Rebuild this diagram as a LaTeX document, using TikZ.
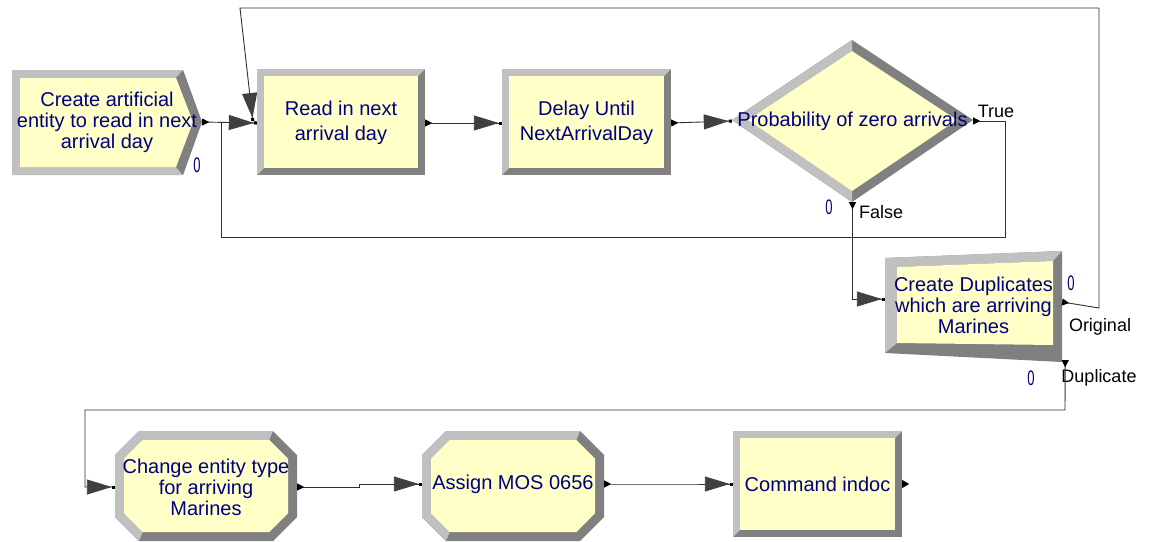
\documentclass[tikz,border=0pt]{standalone}
\usepackage{fontspec}
\setmainfont{Liberation Sans}
\usetikzlibrary{arrows.meta,calc}

\definecolor{modfill}{HTML}{FFFFC8}
\definecolor{bevlight}{HTML}{C0C0C0}
\definecolor{bevdark}{HTML}{808080}
\definecolor{modtext}{HTML}{000080}
\definecolor{linegray}{HTML}{303030}
\definecolor{arrowgray}{HTML}{404040}

% bevelled box: x1, y1, x2, y2, bevel
\newcommand{\bevrect}[5]{%
  \fill[bevdark] (#1,#2) rectangle (#3,#4);
  \fill[bevlight] (#1,#4) -- (#1,#2) -- (#3,#2) -- (#3-#5,#2+#5) -- (#1+#5,#2+#5) -- (#1+#5,#4-#5) -- cycle;
  \fill[modfill] (#1+#5,#2+#5) rectangle (#3-#5,#4-#5);
}
% bevelled box with cut corners: x1, y1, x2, y2, corner, bevel
\newcommand{\bevocta}[6]{%
  \pgfmathsetmacro{\cin}{#5+0.414*#6}
  \fill[bevdark] (#1+#5,#2) -- (#3-#5,#2) -- (#3,#2+#5) -- (#3,#4-#5) -- (#3-#5,#4) -- (#1+#5,#4) -- (#1,#4-#5) -- (#1,#2+#5) -- cycle;
  \fill[bevlight] (#1+#5,#4) -- (#1,#4-#5) -- (#1,#2+#5) -- (#1+#5,#2) -- (#3-#5,#2)
    -- (#3-\cin,#2+#6) -- (#1+\cin,#2+#6) -- (#1+#6,#2+\cin) -- (#1+#6,#4-\cin) -- (#1+\cin,#4-#6) -- cycle;
  \fill[modfill] (#1+\cin,#2+#6) -- (#3-\cin,#2+#6) -- (#3-#6,#2+\cin) -- (#3-#6,#4-\cin) -- (#3-\cin,#4-#6)
    -- (#1+\cin,#4-#6) -- (#1+#6,#4-\cin) -- (#1+#6,#2+\cin) -- cycle;
}
\newcommand{\counterzero}{\scalebox{0.62}[1]{0}}

\tikzset{
  module/.style={text=modtext, font=\fontsize{20}{25}\selectfont, align=center, inner sep=0pt},
  tight/.style={font=\fontsize{20}{21}\selectfont},
  branch/.style={font=\fontsize{18}{20}\selectfont, inner sep=0pt},
  counter/.style={text=modtext, font=\fontsize{21}{22}\selectfont, inner sep=0pt},
  conn/.style={draw=linegray, line width=0.9pt,
    {Triangle[reversed,length=7pt,width=7pt,color=black]}-{Triangle[length=25pt,width=15pt,color=arrowgray]Square[length=3pt,width=3pt,color=black]}},
  link/.style={draw=linegray, line width=0.9pt, {Triangle[reversed,length=7pt,width=7pt,color=black]}-}
}

\begin{document}
\begin{tikzpicture}[x=1pt,y=-1pt]
  \fill[white] (0,0) rectangle (1151,541);
  \useasboundingbox (0,0) rectangle (1151,541);

  % create module
  \fill[bevlight] (12,70) -- (183,70) -- (202,122) -- (183,175) -- (12,175) -- cycle;
  \fill[bevdark] (183,70) -- (202,122) -- (183,175) -- (176,167) -- (193,122) -- (176,78) -- cycle;
  \fill[modfill] (20,78) -- (176,78) -- (193,122) -- (176,167) -- (20,167) -- cycle;
  \node[module, tight, minimum width=190, minimum height=105] (create) at (107,122) {Create artificial\\entity to read in next\\arrival day};
  \node[counter] (create count) at (197,165) {\counterzero};

  \bevrect{257}{69}{425}{175}{7}
  \node[module, minimum width=168, minimum height=106] (read) at (341,123) {Read in next\\arrival day};

  \bevrect{502}{69}{671}{175}{7}
  \node[module, minimum width=169, minimum height=106] (delay) at (586.5,123) {Delay Until\\NextArrivalDay};

  % decide
  \fill[bevdark] (732,120) -- (852,40) -- (973,120) -- (852,202) -- cycle;
  \fill[bevlight] (852,40) -- (732,120) -- (852,202) -- (852,191) -- (748,120) -- (852,51) -- cycle;
  \fill[modfill] (748,120) -- (852,51) -- (957,120) -- (852,191) -- cycle;
  \node[module, minimum width=241, minimum height=162] (prob) at (852.5,121) {Probability of zero arrivals};
  \node[counter] (prob count) at (829,207) {\counterzero};
  \node[branch] (true) at (996,111) {True};
  \node[branch] (false) at (881,212) {False};

  % separate
  \fill[bevdark] (885,258) -- (1062,251) -- (1062,362) -- (885,353) -- cycle;
  \fill[bevlight] (885,353) -- (885,258) -- (1062,251) -- (1053,261) -- (897,267) -- (897,343) -- cycle;
  \fill[modfill] (897,267) -- (1053,261) -- (1053,345) -- (897,343) -- cycle;
  \node[module, tight, minimum width=177, minimum height=104] (dup) at (973.5,305) {Create Duplicates\\which are arriving\\Marines};
  \node[counter] (orig count) at (1071,283) {\counterzero};
  \node[counter] (dup count) at (1031,378) {\counterzero};
  \node[branch] (original) at (1100,327) {Original};
  \node[branch] (duplicate) at (1099,378) {Duplicate};

  \bevocta{115}{431}{297}{541}{24}{9}
  \node[module, tight, minimum width=182, minimum height=110] (change) at (206,487) {Change entity type\\for arriving\\Marines};

  \bevocta{422}{431}{604}{541}{24}{9}
  \node[module, minimum width=182, minimum height=110] (assign) at (513,484) {Assign MOS 0656};

  \bevrect{733}{431}{902}{537}{7}
  \node[module, minimum width=169, minimum height=106] (command) at (817.5,484) {Command indoc};
  \fill[black] (command.east) -- ++(0,-4) -- ++(7,4) -- ++(-7,4) -- cycle;

  % connectors
  \coordinate (merge) at (221,122);
  \coordinate (loop right) at (1099,8);
  \coordinate (loop left) at (240,8);

  \draw[conn] (create.east) -- (read.west);
  \draw[conn] (read.east) -- (delay.west);
  \draw[conn] (delay.east) -- (prob.west);
  \draw[link] (prob.east) -- (1005,121) -- (1005,237) -- (221,237) -- (merge);
  \draw[conn] (prob.south) |- ([yshift=6pt]dup.west);
  \draw[conn] ([yshift=3pt]dup.east) -- (1099,308) -- (loop right) -- (loop left) -- ([xshift=-4pt,yshift=2pt]read.west);
  \draw[conn] ([xshift=3pt,yshift=-3pt]dup.south east) -- (1065,410) -- (85,410) -- (85,487) -- (change.west);
  \draw[conn] (change.east) -- ++(62,0) |- (assign.west);
  \draw[conn] (assign.east) -- ++(63,0) |- (command.west);
\end{tikzpicture}
\end{document}
